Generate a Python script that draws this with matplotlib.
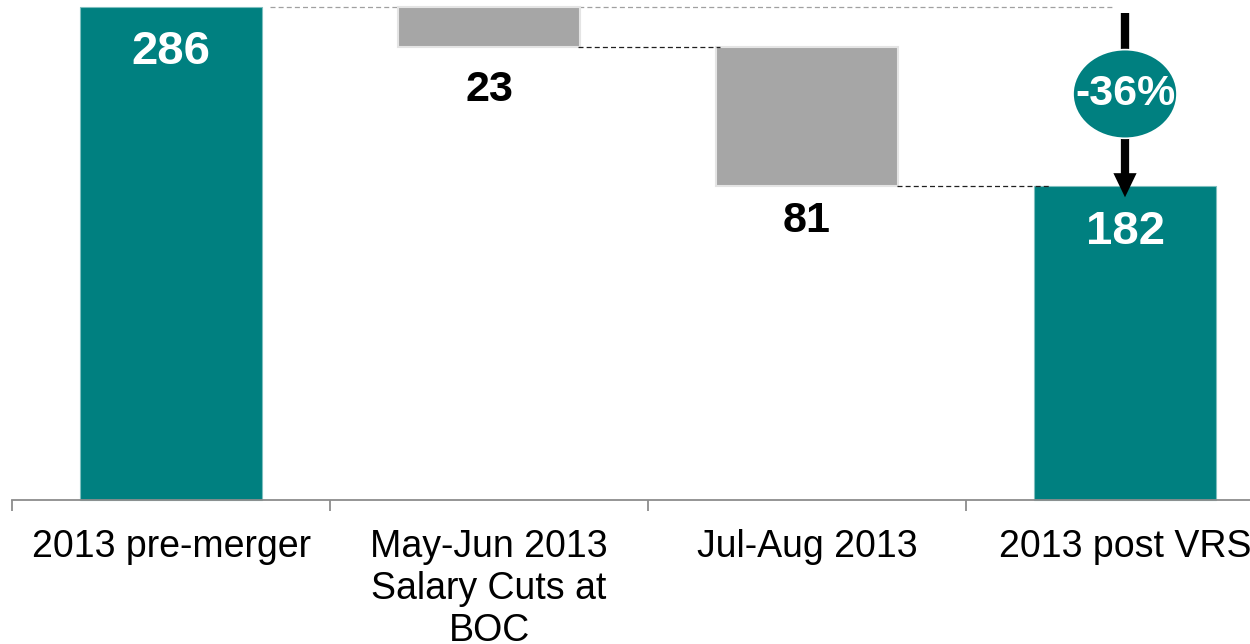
import matplotlib
matplotlib.use("Agg")
import matplotlib.pyplot as plt
from matplotlib.patches import Ellipse, FancyArrow

plt.rcParams['font.family'] = ['Liberation Sans', 'DejaVu Sans']

categories = ["2013 pre-merger", "May-Jun 2013\nSalary Cuts at\nBOC", "Jul-Aug 2013", "2013 post VRS"]
values = [286, -23, -81, 182]
kinds = ["total", "delta", "delta", "total"]
change_label = "-36%"

TEAL = "#008080"
GRAY = "#a6a6a6"

fig = plt.figure(figsize=(12.5, 6.44), dpi=100)
# axes spans 4 categories of ~318 px each starting at x=12 px
ax = fig.add_axes([12/1250, 144.5/644, 1272/1250, 492.5/644])
ax.set_xlim(-0.5, 3.5)
ax.set_ylim(0, 286)

bw = 0.572
running = 0
bottoms = []
tops = []
for i, (v, k) in enumerate(zip(values, kinds)):
    if k == "total":
        b, h = 0, v
        running = v
        ax.bar(i, h, bottom=b, width=bw, color=TEAL, edgecolor="#7fbfbf", linewidth=0.8, zorder=2, clip_on=False)
    else:
        b = running + v
        h = -v
        ax.bar(i, h, bottom=b, width=bw, color=GRAY, edgecolor="#e4e4e4", linewidth=1.5, zorder=2, clip_on=False)
        running = b
    bottoms.append(b)
    tops.append(b + h)

# value labels (offsets in pixels converted to points)
for i, (v, k) in enumerate(zip(values, kinds)):
    if k == "total":
        ax.annotate(str(abs(v)), (i, tops[i]), xytext=(0, -45.5 * 0.72), textcoords="offset points",
                    ha="center", va="center", color="white", fontsize=34, fontweight="bold", zorder=5)
    else:
        off = 43.5 if i == 1 else 35
        ax.annotate(str(abs(v)), (i, bottoms[i]), xytext=(0, -off * 0.72), textcoords="offset points",
                    ha="center", va="center", color="black", fontsize=31, fontweight="bold", zorder=5)

# connectors
ax.plot([0.311, 2.968], [tops[0], tops[0]], ls=(0, (4, 2.5)), color="#a0a0a0", lw=0.9, zorder=1, clip_on=False)
ax.plot([1 + bw/2 - 0.006, 2 - bw/2 + 0.012], [bottoms[1], bottoms[1]], ls=(0, (4, 2.5)), color="#202020", lw=0.9, zorder=3)
ax.plot([2 + bw/2 - 0.003, 3 - bw/2 + 0.05], [bottoms[2], bottoms[2]], ls=(0, (4, 2.5)), color="#202020", lw=0.9, zorder=3)

# arrow with ellipse
ex, ey = 3, 235.5
ax.plot([3, 3], [282.5, 255], color="black", lw=6, solid_capstyle="butt", zorder=4)
ax.add_patch(FancyArrow(3, 212, 0, -36.5, width=0.026, head_width=0.073, head_length=14,
                        length_includes_head=True, color="black", zorder=6, lw=0))
ax.add_patch(Ellipse((ex, ey), 0.327, 51.5, facecolor=TEAL, edgecolor="white", lw=1.2, zorder=7))
ax.text(ex, ey, change_label, ha="center", va="center", color="white", fontsize=31,
        fontweight="bold", zorder=8)

# axes styling
for s in ["top", "right", "left"]:
    ax.spines[s].set_visible(False)
ax.spines["bottom"].set_color("#8c8c8c")
ax.spines["bottom"].set_linewidth(1.3)
ax.set_yticks([])
ax.set_xticks([-0.5, 0.5, 1.5, 2.5, 3.5])
ax.set_xticklabels([])
ax.tick_params(axis="x", which="major", length=8, width=1.3, color="#8c8c8c")
ax.set_xticks(range(len(categories)), minor=True)
ax.set_xticklabels(categories, minor=True, fontsize=27, linespacing=1.22)
ax.tick_params(axis="x", which="minor", length=0, pad=21)

fig.savefig("out.png", dpi=100)
